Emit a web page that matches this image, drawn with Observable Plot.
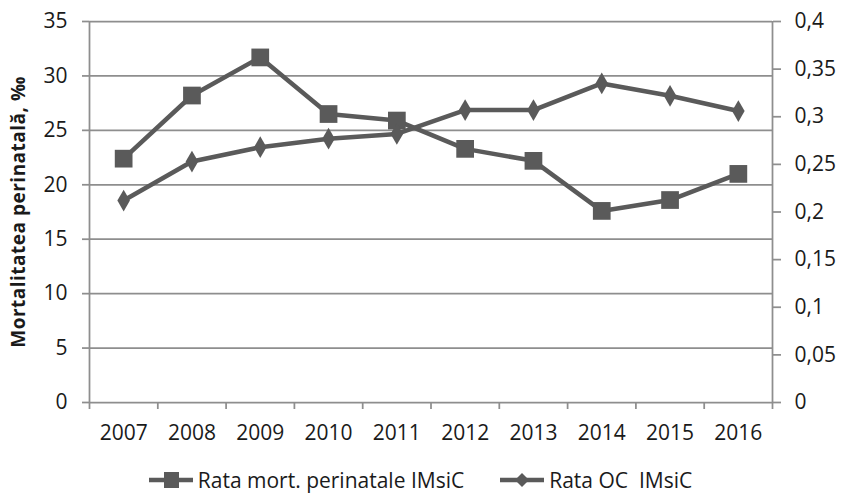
<!DOCTYPE html>
<html>
<head>
<meta charset="utf-8">
<script src="https://cdn.jsdelivr.net/npm/d3@7"></script>
<script src="https://cdn.jsdelivr.net/npm/@observablehq/plot@0.6"></script>
<style>
  html, body { margin: 0; padding: 0; background: #fff; }
  #chart { width: 841px; font-family: "Open Sans", sans-serif; color: #1a1a1a; }
  #legend { height: 40px; display: flex; justify-content: center; align-items: flex-start; gap: 36px; font-size: 21px; white-space: pre; }
  .item { display: flex; align-items: center; gap: 5px; height: 24px; margin-top: 13px; }
  .item span { line-height: 24px; }
  .item svg { display: block; }
</style>
</head>
<body>
<div id="chart"></div>
<script>
// Years on the x axis
const years = [2007, 2008, 2009, 2010, 2011, 2012, 2013, 2014, 2015, 2016];
// Perinatal mortality rate, ‰ (left axis)
const mortality = [22.4, 28.2, 31.7, 26.5, 25.9, 23.3, 22.2, 17.6, 18.6, 21.0];
// OC rate (right axis)
const ocRate = [0.212, 0.253, 0.268, 0.277, 0.282, 0.307, 0.307, 0.335, 0.322, 0.306];
// Axis ticks
const leftTicks = [0, 5, 10, 15, 20, 25, 30, 35];
const rightTicks = [0, 0.05, 0.1, 0.15, 0.2, 0.25, 0.3, 0.35, 0.4];
// Series names
const seriesNames = ["Rata mort. perinatale IMsiC", "Rata OC  IMsiC"];
const yTitle = "Mortalitatea perinatală, ‰";

const lineColor = "#5a5a5a";
const gridColor = "#8e8e8e";
const textColor = "#1a1a1a";

// Right axis values are mapped onto the left scale
const k = 35 / 0.4;
const comma = v => String(+v.toFixed(2)).replace(".", ",");

const rows = years.map((year, i) => ({year, mort: mortality[i], oc: ocRate[i] * k}));
// Category boundaries for the x tick marks
const bounds = years.map(y => y - 0.5).concat([years[years.length - 1] + 0.5]);

const plot = Plot.plot({
  width: 841,
  height: 455,
  marginTop: 21,
  marginBottom: 53,
  marginLeft: 89,
  marginRight: 69,
  x: {domain: [bounds[0], bounds[bounds.length - 1]]},
  y: {domain: [0, 35]},
  style: {fontFamily: "Open Sans, sans-serif", fontSize: "21px", color: textColor, background: "#fff"},
  marks: [
    Plot.ruleY(leftTicks, {stroke: gridColor, strokeWidth: 1.75}),
    Plot.ruleX([bounds[0], bounds[bounds.length - 1]], {stroke: gridColor, strokeWidth: 1.75}),
    Plot.axisY(leftTicks, {anchor: "left", tickSize: 7, tickPadding: 15, stroke: gridColor, strokeWidth: 1.75, fill: textColor, label: null}),
    Plot.axisY(rightTicks.map(v => v * k), {anchor: "right", tickSize: 8, tickPadding: 14, stroke: gridColor, strokeWidth: 1.75, fill: textColor, tickFormat: d => comma(d / k), label: null}),
    Plot.axisX(bounds, {tickSize: 7, stroke: gridColor, strokeWidth: 1.75, tickFormat: () => "", label: null}),
    Plot.axisX(years, {tickSize: 0, tickPadding: 23, fill: textColor, tickFormat: d => String(d), label: null}),
    Plot.text([yTitle], {frameAnchor: "left", textAnchor: "middle", lineAnchor: "middle", rotate: -90, dx: -71, dy: 0, fontWeight: "bold", fontSize: 19, fill: textColor}),
    Plot.line(rows, {x: "year", y: "mort", stroke: lineColor, strokeWidth: 4.5}),
    Plot.line(rows, {x: "year", y: "oc", stroke: lineColor, strokeWidth: 4.5}),
    Plot.dot(rows, {x: "year", y: "mort", symbol: "square", r: 10, fill: lineColor, stroke: null}),
    Plot.dot(rows, {x: "year", y: "oc", symbol: "diamond", r: 6.6, fill: lineColor, stroke: null})
  ]
});

const chart = document.getElementById("chart");
chart.append(plot);
// Slightly wider letter spacing for the rotated axis title
d3.select(plot).selectAll("text").filter(function() { return this.textContent === yTitle; })
  .attr("letter-spacing", "0.5px");

// Legend below the plot
const legend = document.createElement("div");
legend.id = "legend";
const swatch = (shape) => {
  const s = d3.create("svg").attr("width", 44).attr("height", 20);
  s.append("line").attr("x1", 0).attr("x2", 44).attr("y1", 10).attr("y2", 10)
    .attr("stroke", lineColor).attr("stroke-width", 4.5);
  if (shape === "square") {
    s.append("rect").attr("x", 15).attr("y", 2).attr("width", 15).attr("height", 16).attr("fill", lineColor);
  } else {
    s.append("path").attr("d", "M22,3L29,10L22,17L15,10Z").attr("fill", lineColor);
  }
  return s.node();
};
["square", "diamond"].forEach((shape, i) => {
  const item = document.createElement("div");
  item.className = "item";
  item.append(swatch(shape));
  const t = document.createElement("span");
  t.textContent = seriesNames[i];
  item.append(t);
  legend.append(item);
});
chart.append(legend);
</script>
</body>
</html>
